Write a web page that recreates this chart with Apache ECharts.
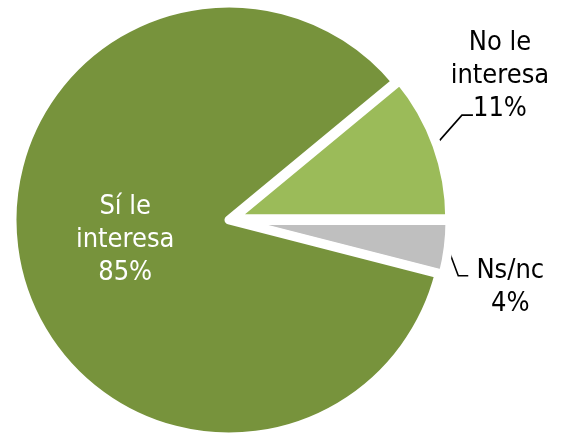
<!DOCTYPE html>
<html>
<head>
<meta charset="utf-8">
<script src="https://cdn.jsdelivr.net/npm/echarts@6/dist/echarts.min.js"></script>
<style>
html,body{margin:0;padding:0;background:#fff;}
#c{width:565px;height:437px;}
</style>
</head>
<body>
<div id="c"></div>
<script>
const categories = ['No le interesa', 'Ns/nc', 'Sí le interesa'];
const values = [11, 4, 85];
const colors = ['#9BBB59', '#BFBFBF', '#77933C'];
const labelNames = [['No le', 'interesa'], ['Ns/nc'], ['Sí le', 'interesa']];

const chart = echarts.init(document.getElementById('c'));
const FONT = '"DejaVu Sans Condensed", "DejaVu Sans", sans-serif';
const BOXW = 120;

// leader-line geometry (style): start shift, bend offset, horizontal run, label centre offset from line end
const leader = [
  { s: [-5, 4], b: [30, -34], h: 11, c: [27, -39] },
  { s: [-3, -7], b: [13, 35], h: 10, c: [42, 12] }
];

chart.setOption({
  animation: false,
  series: [{
    type: 'pie',
    center: [229, 220],
    radius: 217,
    startAngle: 39.6,
    clockwise: true,
    selectedMode: 'multiple',
    selectedOffset: 4,
    emphasis: { disabled: true },
    data: categories.map((c, i) => ({
      name: c,
      value: values[i],
      selected: i < 2,
      itemStyle: { color: colors[i] },
      label: i === 2 ? { position: 'inner', color: '#ffffff' } : { position: 'outside', color: '#000000' },
      labelLine: { show: i < 2 }
    })),
    itemStyle: { borderColor: '#ffffff', borderWidth: 9 },
    label: {
      formatter: p => labelNames[p.dataIndex].concat([p.value + '%']).map(s => '{a|' + s + '}').join('\n'),
      overflow: 'none',
      rich: {
        a: { fontFamily: FONT, fontSize: 27, lineHeight: 33, width: BOXW, align: 'center' }
      }
    },
    labelLine: { showAbove: true, length: 20, length2: 10, lineStyle: { color: '#000000', width: 1.6 } },
    labelLayout: function (params) {
      const r = params.labelRect;
      if (params.dataIndex === 2) {
        return { dx: 5, dy: -4 };
      }
      const L = leader[params.dataIndex];
      const p = params.labelLinePoints[0];
      const p0 = [p[0] + L.s[0], p[1] + L.s[1]];
      const p1 = [p0[0] + L.b[0], p0[1] + L.b[1]];
      const p2 = [p1[0] + L.h, p1[1]];
      const cx = p2[0] + L.c[0], cy = p2[1] + L.c[1];
      return {
        dx: (cx - r.width / 2) - r.x,
        dy: (cy - r.height / 2) - r.y,
        labelLinePoints: [p0, p1, p2]
      };
    }
  }]
});
</script>
</body>
</html>
